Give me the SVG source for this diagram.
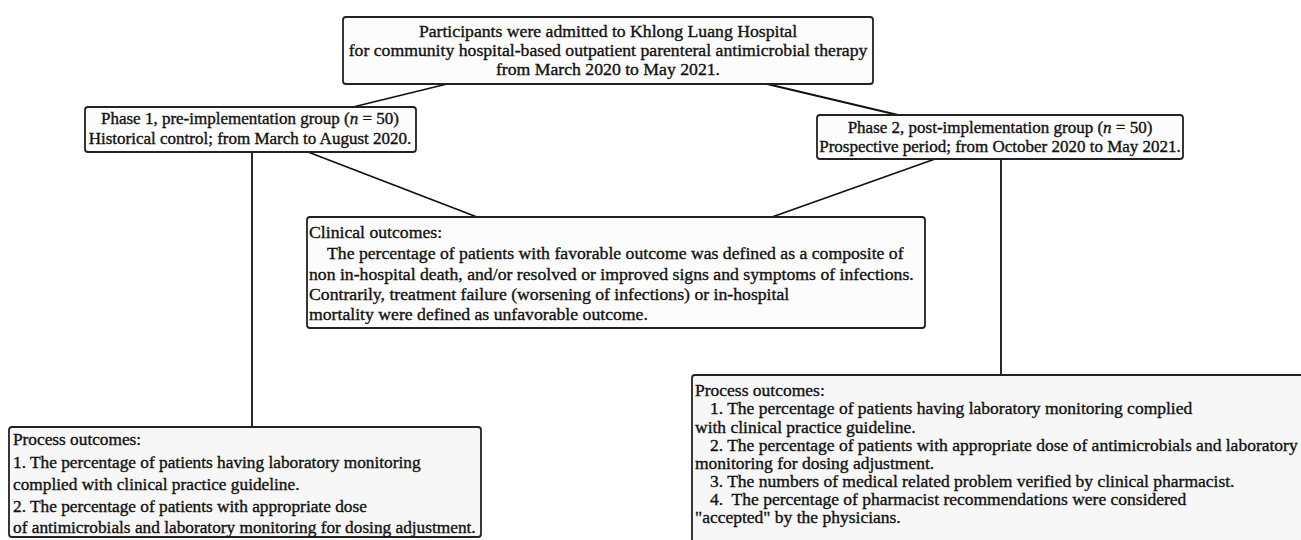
<svg xmlns="http://www.w3.org/2000/svg" width="1301" height="540" viewBox="0 0 1301 540">
<style>
.box{fill:#fcfcfc;stroke:#222;stroke-width:1.8}
.pbox{fill:#f7f7f7;stroke:#222;stroke-width:1.8}
.conn line{stroke:#111;stroke-width:1.8}
text{font-family:"Liberation Serif","Times New Roman",serif;fill:#111;stroke:#111;stroke-width:0.35}
.c{text-anchor:middle;font-size:17px}
.t{text-anchor:middle;font-size:17.7px}
.cl{font-size:17.7px}
.pl{font-size:17.3px}
.pr{font-size:17.5px}
</style>
<rect width="1301" height="540" fill="#fff"/>
<g id="connectors" class="conn">
<line x1="447" y1="84" x2="353" y2="107"/>
<line x1="767" y1="84" x2="898" y2="115"/>
<line x1="252" y1="152" x2="252" y2="427"/>
<line x1="308" y1="152" x2="477" y2="217"/>
<line x1="935" y1="159" x2="772" y2="217"/>
<line x1="1001" y1="159" x2="1001" y2="375"/>
</g>
<g id="top">
<rect class="box" x="343" y="17" width="530" height="67" rx="3"/>
<text class="t" x="608" y="37">Participants were admitted to Khlong Luang Hospital</text>
<text class="t" x="608" y="56">for community hospital-based outpatient parenteral antimicrobial therapy</text>
<text class="t" x="608" y="75">from March 2020 to May 2021.</text>
</g>
<g id="phase1">
<rect class="box" x="85" y="107" width="331" height="45" rx="3"/>
<text class="c" x="250" y="124">Phase 1, pre-implementation group (<tspan font-style="italic">n</tspan> = 50)</text>
<text class="c" x="250" y="144">Historical control; from March to August 2020.</text>
</g>
<g id="phase2">
<rect class="box" x="817" y="115" width="366" height="44" rx="3"/>
<text class="c" x="1000" y="133">Phase 2, post-implementation group (<tspan font-style="italic">n</tspan> = 50)</text>
<text class="c" x="1000" y="152">Prospective period; from October 2020 to May 2021.</text>
</g>
<g id="clinical">
<rect class="box" x="307" y="217" width="618" height="111" rx="3"/>
<text class="cl" x="309" y="238">Clinical outcomes:</text>
<text class="cl" x="327" y="259">The percentage of patients with favorable outcome was defined as a composite of</text>
<text class="cl" x="309" y="280">non in-hospital death, and/or resolved or improved signs and symptoms of infections.</text>
<text class="cl" x="309" y="300">Contrarily, treatment failure (worsening of infections) or in-hospital</text>
<text class="cl" x="309" y="320">mortality were defined as unfavorable outcome.</text>
</g>
<g id="process1">
<rect class="pbox" x="9" y="427" width="472" height="110" rx="3"/>
<text class="pl" x="13" y="445">Process outcomes:</text>
<text class="pl" x="13" y="468">1. The percentage of patients having laboratory monitoring</text>
<text class="pl" x="13" y="490">complied with clinical practice guideline.</text>
<text class="pl" x="13" y="512">2. The percentage of patients with appropriate dose</text>
<text class="pl" x="13" y="533">of antimicrobials and laboratory monitoring for dosing adjustment.</text>
</g>
<g id="process2">
<rect class="pbox" x="692" y="375" width="640" height="200" rx="3"/>
<text class="pr" x="695" y="396">Process outcomes:</text>
<text class="pr" x="710" y="414">1. The percentage of patients having laboratory monitoring complied</text>
<text class="pr" x="695" y="433">with clinical practice guideline.</text>
<text class="pr" x="710" y="451">2. The percentage of patients with appropriate dose of antimicrobials and laboratory</text>
<text class="pr" x="695" y="469">monitoring for dosing adjustment.</text>
<text class="pr" x="710" y="487">3. The numbers of medical related problem verified by clinical pharmacist.</text>
<text class="pr" x="710" y="505">4.&#160; The percentage of pharmacist recommendations were considered</text>
<text class="pr" x="695" y="523">&quot;accepted&quot; by the physicians.</text>
</g>
</svg>
